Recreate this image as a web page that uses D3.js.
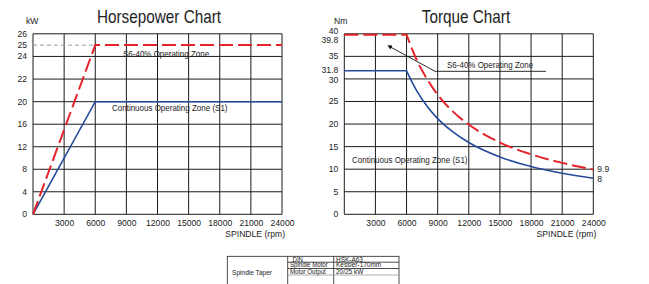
<!DOCTYPE html>
<html>
<head>
<meta charset="utf-8">
<script src="https://cdn.jsdelivr.net/npm/d3@7"></script>
<style>
  body { margin: 0; background: #fff; }
  text { font-family: "Liberation Sans", Arial, sans-serif; fill: #222; }
</style>
</head>
<body>
<div id="chart"></div>
<script>
// x axis ticks (rpm)
var rpmTicks = [3000, 6000, 9000, 12000, 15000, 18000, 21000, 24000];

// horsepower chart
var hpGrid = [0, 4, 8, 12, 16, 20, 22, 24, 26];
var hpLabels = [0, 4, 8, 12, 16, 20, 22, 24, 25, 26];
var hpS6 = [[0, 0], [6000, 25], [24000, 25]];
var hpS1 = [[0, 0], [6000, 20], [24000, 20]];

// torque chart
var tqGrid = [0, 5, 10, 15, 20, 25, 30, 35, 40];
var tqLabels = [0, 5, 10, 15, 20, 25, 30, 31.8, 35, 39.8, 40];
var tqS6 = [[0, 39.8], [6000, 39.8], [7000, 34.1], [8000, 29.9], [9000, 26.5], [10500, 22.7],
            [12000, 19.9], [15000, 15.9], [18000, 13.3], [21000, 11.4], [24000, 9.9]];
var tqS1 = [[0, 31.8], [6000, 31.8], [7000, 27.3], [8000, 23.9], [9000, 21.2], [10500, 18.2],
            [12000, 15.9], [15000, 12.7], [18000, 10.6], [21000, 9.1], [24000, 8]];

// spec table
var tableRows = [["DIN", "HSK-A63"], ["Spindle Motor", "Kessler-170mm"], ["Motor Output", "20/25 kW"]];
var tableHead = "Spindle Taper";

var svg = d3.select("#chart").append("svg")
  .attr("width", 649)
  .attr("height", 284);

var red = "#e5232b", blue = "#244a9c", grid = "#1c1c1c";

// text squeezed horizontally (the original uses a narrow face)
function label(g, x, y, str, size, sx, anchor) {
  return g.append("text")
    .attr("transform", "translate(" + x + "," + y + ") scale(" + sx + ",1)")
    .attr("text-anchor", anchor || "start")
    .style("font-size", size + "px")
    .text(str);
}

function drawChart(opt) {
  var g = svg.append("g");
  var x = d3.scaleLinear().domain([0, 24000]).range([opt.x0, opt.x1]);
  var y = opt.y;

  // horizontal grid
  g.selectAll(".hg").data(opt.grid).enter().append("line")
    .attr("x1", x(0)).attr("x2", x(24000))
    .attr("y1", d => y(d)).attr("y2", d => y(d))
    .attr("stroke", grid).attr("stroke-width", 1);

  // vertical grid
  g.selectAll(".vg").data([0].concat(rpmTicks)).enter().append("line")
    .attr("x1", d => x(d)).attr("x2", d => x(d))
    .attr("y1", y(opt.grid[0])).attr("y2", y(opt.grid[opt.grid.length - 1]))
    .attr("stroke", grid).attr("stroke-width", 1);

  // x axis
  var xAxis = g.append("g")
    .attr("transform", "translate(0," + y(0) + ")")
    .call(d3.axisBottom(x).tickValues(rpmTicks).tickFormat(d3.format("d")).tickSize(0).tickPadding(6));
  xAxis.select(".domain").remove();
  xAxis.selectAll("text").style("font-size", "8.6px").attr("fill", "#222");

  // y labels
  g.selectAll(".yl").data(opt.labels).enter().append("text")
    .attr("x", x(0) - 6)
    .attr("y", d => y(d) + (opt.nudge[d] || 0))
    .attr("dy", "0.35em")
    .attr("text-anchor", "end")
    .style("font-size", "8.6px")
    .text(d => d);

  // unit
  g.append("text").attr("x", opt.unitX).attr("y", 23.5)
    .style("font-size", "8.6px").text(opt.unit);

  // title
  label(g, opt.titleX, 23, opt.title, 18, 0.85, "middle").attr("fill", "#111");

  // x label
  g.append("text").attr("x", x(24000) + 3).attr("y", 237)
    .attr("text-anchor", "end")
    .style("font-size", "8.6px")
    .text("SPINDLE (rpm)");

  // flat/linear start, then the curve after the corner
  var lin = d3.line().x(d => x(d[0])).y(d => y(d[1]));
  var crv = d3.line().x(d => x(d[0])).y(d => y(d[1])).curve(opt.curve);
  function path(s) {
    return lin(s.slice(0, 2)) + "L" + crv(s.slice(1)).slice(1);
  }

  if (opt.extra) opt.extra(g, x, y);

  g.append("path")
    .attr("d", path(opt.s1)).attr("fill", "none")
    .attr("stroke", blue).attr("stroke-width", 1.6);

  g.append("path")
    .attr("d", path(opt.s6)).attr("fill", "none")
    .attr("stroke", red).attr("stroke-width", 2)
    .attr("stroke-dasharray", "14,5");

  return { g: g, x: x, y: y };
}

// ---- Horsepower chart
var hp = drawChart({
  x0: 33, x1: 282,
  y: d3.scaleLinear().domain([0, 20, 26]).range([214.3, 101.7, 33.8]),
  grid: hpGrid, labels: hpLabels, nudge: {},
  s6: hpS6, s1: hpS1, curve: d3.curveLinear,
  unit: "kW", unitX: 26,
  title: "Horsepower Chart", titleX: 159,
  extra: function(g, x, y) {
    g.append("line")
      .attr("x1", x(0)).attr("x2", x(6000))
      .attr("y1", y(25)).attr("y2", y(25))
      .attr("stroke", "#9a9a9a").attr("stroke-width", 1)
      .attr("stroke-dasharray", "4,3");
  }
});
label(hp.g, 123, 56.5, "S6-40%  Operating Zone", 8.6, 0.93);
label(hp.g, 112, 111, "Continuous Operating Zone (S1)", 8.6, 0.93);

// ---- Torque chart
var tq = drawChart({
  x0: 344.3, x1: 593.3,
  y: d3.scaleLinear().domain([0, 40]).range([214.3, 33.8]),
  grid: tqGrid, labels: tqLabels, nudge: { 40: -2.8, 39.8: 5.6, 31.8: -0.5, 30: 0.8 },
  s6: tqS6, s1: tqS1, curve: d3.curveMonotoneX,
  unit: "Nm", unitX: 334,
  title: "Torque Chart", titleX: 466
});
label(tq.g, 447, 67.5, "S6-40%  Operating Zone", 8.6, 0.93);
label(tq.g, 352, 163, "Continuous Operating Zone (S1)", 8.6, 0.93);
// end values
tq.g.append("text").attr("x", tq.x(24000) + 4).attr("y", tq.y(tqS6[tqS6.length - 1][1]) - 1)
  .attr("dy", "0.35em").style("font-size", "8.6px").text(tqS6[tqS6.length - 1][1]);
tq.g.append("text").attr("x", tq.x(24000) + 4).attr("y", tq.y(tqS1[tqS1.length - 1][1]) + 0.5)
  .attr("dy", "0.35em").style("font-size", "8.6px").text(tqS1[tqS1.length - 1][1]);

// pointer to S6 zone
svg.append("defs").append("marker")
  .attr("id", "arrow").attr("viewBox", "0 0 10 10")
  .attr("refX", 1).attr("refY", 5)
  .attr("markerWidth", 7).attr("markerHeight", 5)
  .attr("orient", "auto-start-reverse")
  .append("path").attr("d", "M0,0L10,5L0,10z").attr("fill", "#111");
tq.g.append("path")
  .attr("d", "M546,71.3L435,71.3L391,47.3")
  .attr("fill", "none").attr("stroke", "#111").attr("stroke-width", 0.9)
  .attr("marker-end", "url(#arrow)");

// ---- spec table
var tb = svg.append("g");
var tx = [227.3, 287.7, 333.7, 399], ty = [256.3, 262.2, 268.5, 275];
tb.append("rect").attr("x", tx[0]).attr("y", ty[0])
  .attr("width", tx[3] - tx[0]).attr("height", 40)
  .attr("fill", "none").attr("stroke", "#222").attr("stroke-width", 0.8);
[tx[1], tx[2]].forEach(function(v) {
  tb.append("line").attr("x1", v).attr("x2", v).attr("y1", ty[0]).attr("y2", 290)
    .attr("stroke", "#222").attr("stroke-width", 0.8);
});
ty.slice(1).forEach(function(v, i) {
  tb.append("line").attr("x1", tx[1]).attr("x2", tx[3]).attr("y1", v).attr("y2", v)
    .attr("stroke", i == 2 ? "#999" : "#222").attr("stroke-width", 0.8);
});
label(tb, 232, 274.5, tableHead, 7.3, 0.9);
tableRows.forEach(function(d, i) {
  label(tb, i == 0 ? 292.5 : 290, ty[i] + 5.2, d[0], 6.6, 0.93);
  label(tb, 336, ty[i] + 5.2, d[1], 6.6, 0.98);
});
</script>
</body>
</html>
